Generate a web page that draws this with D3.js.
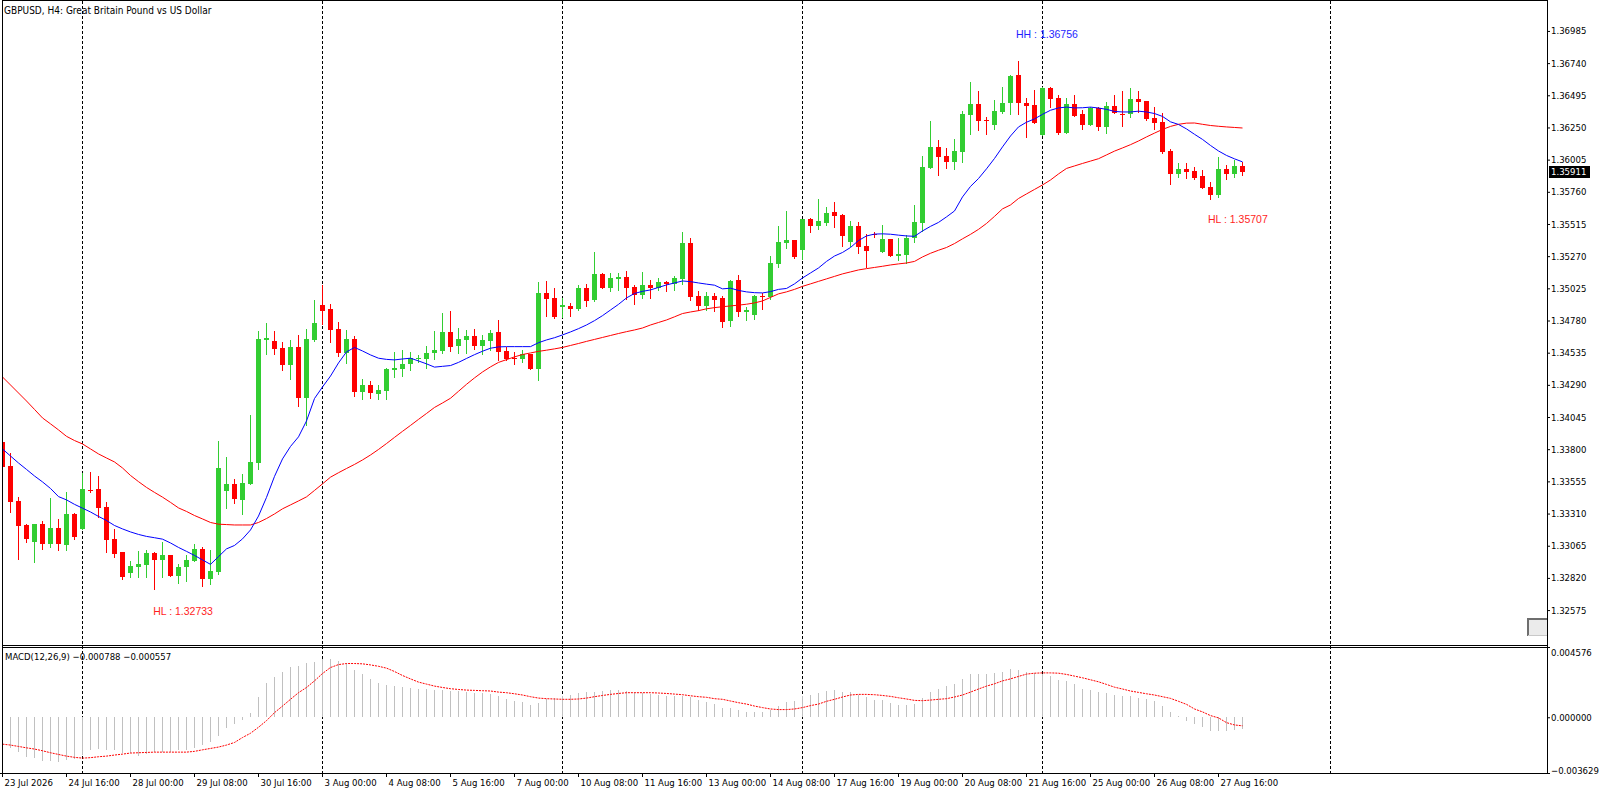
<!DOCTYPE html>
<html>
<head>
<meta charset="utf-8">
<script src="https://cdn.jsdelivr.net/npm/d3@7"></script>
<style>
  body { margin: 0; background: #fff; }
  svg { display: block; }
</style>
</head>
<body>
<svg id="chart" width="1600" height="794"></svg>
<script>
// GBPUSD H4 bars (bar 0 = 23 Jul 08:00)
var openPrices = [1.33855,1.33672,1.33406,1.33221,1.33096,1.33231,1.33079,1.33200,1.33074,1.33307,
  1.33195,1.33488,1.33498,1.33360,1.33117,1.33018,1.32858,1.32906,1.32918,1.33010,
  1.32959,1.32995,1.32838,1.32904,1.32952,1.33043,1.32814,1.32867,1.33485,1.33536,
  1.33414,1.33538,1.33698,1.34635,1.34625,1.34571,1.34442,1.34579,1.34193,1.34632,
  1.34901,1.34868,1.34716,1.34533,1.34640,1.34238,1.34289,1.34223,1.34246,1.34406,
  1.34411,1.34452,1.34488,1.34488,1.34536,1.34548,1.34693,1.34586,1.34632,1.34662,
  1.34586,1.34625,1.34693,1.34548,1.34495,1.34488,1.34525,1.34411,1.34990,1.34952,
  1.34886,1.34891,1.34870,1.35028,1.34939,1.35134,1.35030,1.35096,1.35112,1.35036,
  1.34977,1.35051,1.35028,1.35074,1.35058,1.35096,1.35371,1.34967,1.34891,1.34967,
  1.34952,1.34779,1.35089,1.34848,1.34825,1.34970,1.34962,1.35213,1.35373,1.35393,
  1.35317,1.35553,1.35502,1.35523,1.35607,1.35584,1.35381,1.35500,1.35348,1.35440,
  1.35304,1.35402,1.35274,1.35281,1.35409,1.35525,1.35944,1.36102,1.36033,1.35990,
  1.36066,1.36347,1.36430,1.36309,1.36271,1.36366,1.36435,1.36650,1.36437,1.36422,
  1.36193,1.36551,1.36475,1.36211,1.36430,1.36353,1.36271,1.36397,1.36256,1.36414,
  1.36353,1.36350,1.36468,1.36452,1.36322,1.36294,1.36071,1.35898,1.35934,1.35918,
  1.35880,1.35799,1.35738,1.35934,1.35896,1.35957];

var highPrices = [1.33885,1.33769,1.33435,1.33231,1.33231,1.33254,1.33429,1.33269,1.33475,1.33312,
  1.33619,1.33627,1.33596,1.33398,1.33190,1.33018,1.32949,1.33028,1.33033,1.33018,
  1.33094,1.32995,1.32926,1.32995,1.33079,1.33056,1.33033,1.33863,1.33741,1.33576,
  1.33612,1.34061,1.34701,1.34762,1.34701,1.34617,1.34632,1.34670,1.34716,1.34937,
  1.35053,1.34909,1.34769,1.34708,1.34662,1.34337,1.34320,1.34289,1.34421,1.34541,
  1.34556,1.34541,1.34518,1.34586,1.34701,1.34837,1.34853,1.34724,1.34708,1.34716,
  1.34670,1.34708,1.34784,1.34579,1.34541,1.34556,1.34525,1.35074,1.35081,1.35028,
  1.34950,1.34914,1.35051,1.35058,1.35302,1.35142,1.35142,1.35142,1.35157,1.35051,
  1.35150,1.35089,1.35104,1.35081,1.35119,1.35454,1.35409,1.35005,1.34998,1.34990,
  1.34967,1.35089,1.35127,1.34883,1.34975,1.34990,1.35272,1.35500,1.35614,1.35393,
  1.35553,1.35561,1.35706,1.35645,1.35683,1.35591,1.35538,1.35530,1.35437,1.35455,
  1.35508,1.35402,1.35409,1.35432,1.35662,1.36033,1.36299,1.36155,1.36094,1.36163,
  1.36376,1.36597,1.36528,1.36330,1.36460,1.36559,1.36650,1.36756,1.36475,1.36536,
  1.36559,1.36559,1.36498,1.36475,1.36498,1.36383,1.36404,1.36404,1.36445,1.36498,
  1.36528,1.36551,1.36528,1.36452,1.36406,1.36362,1.36086,1.35980,1.35980,1.35949,
  1.35926,1.35835,1.36026,1.35965,1.36003,1.35988];

var lowPrices = [1.33642,1.33324,1.32967,1.33096,1.32944,1.33043,1.33056,1.33035,1.33035,1.33117,
  1.33195,1.33475,1.33286,1.33020,1.32977,1.32814,1.32830,1.32830,1.32830,1.32733,
  1.32830,1.32838,1.32784,1.32799,1.32949,1.32761,1.32776,1.32852,1.33355,1.33391,
  1.33307,1.33538,1.33652,1.34528,1.34523,1.34403,1.34335,1.34130,1.33985,1.34625,
  1.34754,1.34619,1.34510,1.34457,1.34208,1.34180,1.34193,1.34180,1.34180,1.34350,
  1.34358,1.34403,1.34465,1.34419,1.34488,1.34533,1.34548,1.34533,1.34533,1.34564,
  1.34525,1.34556,1.34480,1.34480,1.34449,1.34465,1.34411,1.34327,1.34815,1.34799,
  1.34805,1.34817,1.34858,1.34893,1.34931,1.35030,1.35008,1.35015,1.34944,1.34909,
  1.34954,1.34954,1.35013,1.35005,1.35013,1.35058,1.34937,1.34860,1.34860,1.34853,
  1.34733,1.34741,1.34817,1.34787,1.34794,1.34870,1.34946,1.35190,1.35332,1.35256,
  1.35251,1.35457,1.35477,1.35508,1.35495,1.35348,1.35350,1.35297,1.35190,1.35417,
  1.35300,1.35274,1.35243,1.35220,1.35380,1.35465,1.35944,1.35890,1.35944,1.35937,
  1.35990,1.36203,1.36233,1.36203,1.36241,1.36358,1.36350,1.36350,1.36180,1.36282,
  1.36193,1.36409,1.36203,1.36211,1.36340,1.36241,1.36271,1.36233,1.36211,1.36358,
  1.36259,1.36332,1.36370,1.36307,1.36241,1.36058,1.35822,1.35875,1.35867,1.35860,
  1.35786,1.35707,1.35723,1.35860,1.35873,1.35888];

var closePrices = [1.33665,1.33401,1.33215,1.33119,1.33231,1.33079,1.33200,1.33079,1.33307,1.33134,
  1.33498,1.33480,1.33353,1.33111,1.33005,1.32830,1.32911,1.32926,1.33010,1.32959,
  1.32995,1.32838,1.32904,1.32957,1.33041,1.32814,1.32873,1.33657,1.33536,1.33424,
  1.33541,1.33703,1.34640,1.34648,1.34564,1.34442,1.34579,1.34193,1.34640,1.34762,
  1.34855,1.34708,1.34533,1.34640,1.34238,1.34289,1.34231,1.34251,1.34411,1.34421,
  1.34449,1.34495,1.34495,1.34533,1.34556,1.34693,1.34581,1.34640,1.34662,1.34586,
  1.34632,1.34685,1.34541,1.34488,1.34490,1.34525,1.34411,1.34990,1.34944,1.34807,
  1.34896,1.34870,1.35028,1.34931,1.35134,1.35030,1.35104,1.35112,1.35030,1.34975,
  1.35051,1.35028,1.35074,1.35058,1.35104,1.35371,1.34960,1.34891,1.34967,1.34937,
  1.34769,1.35081,1.34848,1.34860,1.34967,1.34960,1.35218,1.35378,1.35393,1.35264,
  1.35553,1.35502,1.35538,1.35599,1.35576,1.35424,1.35500,1.35343,1.35312,1.35436,
  1.35402,1.35274,1.35287,1.35409,1.35531,1.35950,1.36102,1.36028,1.35990,1.36071,
  1.36353,1.36430,1.36302,1.36297,1.36376,1.36435,1.36642,1.36435,1.36417,1.36282,
  1.36551,1.36470,1.36208,1.36430,1.36340,1.36269,1.36399,1.36256,1.36414,1.36358,
  1.36347,1.36468,1.36447,1.36315,1.36286,1.36066,1.35898,1.35934,1.35913,1.35863,
  1.35791,1.35738,1.35934,1.35893,1.35957,1.35911];

// moving averages as drawn on the chart (blue = fast, red = slow)
var maFast = [1.33802,1.33748,1.33695,1.33646,1.33596,1.33551,1.33501,1.33439,1.33414,1.33380,
  1.33351,1.33322,1.33288,1.33257,1.33219,1.33193,1.33170,1.33151,1.33136,1.33126,
  1.33115,1.33086,1.33052,1.33022,1.32991,1.32957,1.32923,1.32982,1.33041,1.33067,
  1.33117,1.33185,1.33291,1.33433,1.33593,1.33726,1.33821,1.33894,1.34015,1.34186,
  1.34274,1.34357,1.34457,1.34541,1.34575,1.34548,1.34518,1.34493,1.34484,1.34480,
  1.34487,1.34493,1.34472,1.34450,1.34425,1.34431,1.34437,1.34461,1.34491,1.34520,
  1.34546,1.34569,1.34579,1.34581,1.34581,1.34581,1.34581,1.34611,1.34632,1.34649,
  1.34670,1.34693,1.34718,1.34746,1.34779,1.34817,1.34860,1.34903,1.34952,1.34986,
  1.35002,1.35013,1.35032,1.35051,1.35066,1.35081,1.35076,1.35066,1.35057,1.35049,
  1.35021,1.35026,1.35009,1.34998,1.34992,1.34990,1.35000,1.35017,1.35024,1.35059,
  1.35104,1.35142,1.35180,1.35230,1.35271,1.35298,1.35336,1.35389,1.35424,1.35438,
  1.35440,1.35437,1.35430,1.35424,1.35421,1.35462,1.35497,1.35527,1.35569,1.35614,
  1.35721,1.35801,1.35861,1.35935,1.36014,1.36102,1.36185,1.36254,1.36290,1.36315,
  1.36350,1.36381,1.36399,1.36405,1.36399,1.36400,1.36405,1.36398,1.36388,1.36372,
  1.36368,1.36368,1.36374,1.36368,1.36356,1.36334,1.36293,1.36273,1.36239,1.36198,
  1.36159,1.36113,1.36071,1.36037,1.36011,1.35988];

var maSlow = [1.34350,1.34289,1.34228,1.34167,1.34103,1.34038,1.33993,1.33947,1.33898,1.33866,
  1.33840,1.33802,1.33764,1.33733,1.33703,1.33657,1.33600,1.33553,1.33509,1.33471,
  1.33435,1.33395,1.33353,1.33326,1.33295,1.33269,1.33242,1.33229,1.33226,1.33223,
  1.33223,1.33223,1.33242,1.33272,1.33307,1.33346,1.33376,1.33406,1.33437,1.33486,
  1.33536,1.33587,1.33621,1.33653,1.33684,1.33718,1.33756,1.33798,1.33843,1.33890,
  1.33936,1.33981,1.34027,1.34072,1.34118,1.34152,1.34188,1.34241,1.34294,1.34343,
  1.34388,1.34427,1.34461,1.34482,1.34503,1.34521,1.34533,1.34545,1.34554,1.34564,
  1.34575,1.34590,1.34605,1.34621,1.34636,1.34651,1.34666,1.34681,1.34695,1.34708,
  1.34723,1.34746,1.34765,1.34784,1.34808,1.34833,1.34845,1.34855,1.34869,1.34878,
  1.34885,1.34891,1.34897,1.34904,1.34914,1.34929,1.34956,1.34983,1.34998,1.35017,
  1.35040,1.35059,1.35078,1.35097,1.35116,1.35135,1.35150,1.35165,1.35175,1.35184,
  1.35193,1.35203,1.35211,1.35218,1.35230,1.35264,1.35292,1.35315,1.35336,1.35366,
  1.35402,1.35436,1.35474,1.35519,1.35573,1.35630,1.35660,1.35709,1.35744,1.35778,
  1.35812,1.35850,1.35896,1.35938,1.35957,1.35976,1.35994,1.36012,1.36041,1.36070,
  1.36094,1.36119,1.36147,1.36178,1.36207,1.36235,1.36258,1.36274,1.36283,1.36284,
  1.36274,1.36265,1.36259,1.36254,1.36250,1.36246];

// MACD(12,26,9): main line as histogram, signal as dotted line
var macdMain = [-0.00190,-0.00201,-0.00229,-0.00261,-0.00268,-0.00283,-0.00287,-0.00294,-0.00281,-0.00272,
  -0.00244,-0.00216,-0.00205,-0.00212,-0.00216,-0.00233,-0.00233,-0.00250,-0.00237,-0.00227,
  -0.00225,-0.00225,-0.00216,-0.00216,-0.00201,-0.00179,-0.00158,-0.00121,-0.00073,-0.00045,
  -0.00017,0.00030,0.00134,0.00220,0.00263,0.00294,0.00326,0.00337,0.00356,0.00358,
  0.00382,0.00382,0.00365,0.00354,0.00311,0.00281,0.00246,0.00225,0.00209,0.00203,
  0.00194,0.00188,0.00184,0.00181,0.00177,0.00177,0.00173,0.00171,0.00166,0.00155,
  0.00155,0.00151,0.00140,0.00121,0.00106,0.00099,0.00080,0.00095,0.00117,0.00127,
  0.00138,0.00145,0.00155,0.00162,0.00166,0.00168,0.00175,0.00175,0.00168,0.00162,
  0.00158,0.00149,0.00142,0.00136,0.00136,0.00138,0.00132,0.00110,0.00097,0.00084,
  0.00058,0.00058,0.00045,0.00032,0.00035,0.00032,0.00045,0.00071,0.00099,0.00106,
  0.00136,0.00142,0.00158,0.00168,0.00175,0.00164,0.00162,0.00142,0.00132,0.00110,
  0.00110,0.00091,0.00078,0.00078,0.00084,0.00123,0.00164,0.00186,0.00201,0.00214,
  0.00246,0.00279,0.00285,0.00285,0.00291,0.00298,0.00315,0.00311,0.00294,0.00287,
  0.00283,0.00266,0.00240,0.00233,0.00214,0.00186,0.00179,0.00162,0.00155,0.00147,
  0.00136,0.00136,0.00127,0.00121,0.00104,0.00071,0.00032,0.00006,-0.00024,-0.00045,
  -0.00065,-0.00089,-0.00089,-0.00089,-0.00080,-0.000788];

var macdSignal = [-0.00175,-0.00181,-0.00190,-0.00199,-0.00207,-0.00218,-0.00231,-0.00242,-0.00253,-0.00261,
  -0.00266,-0.00263,-0.00257,-0.00253,-0.00246,-0.00240,-0.00233,-0.00231,-0.00229,-0.00227,
  -0.00227,-0.00227,-0.00227,-0.00227,-0.00222,-0.00212,-0.00203,-0.00194,-0.00181,-0.00164,
  -0.00132,-0.00104,-0.00065,-0.00022,0.00030,0.00073,0.00117,0.00160,0.00194,0.00237,
  0.00285,0.00324,0.00343,0.00350,0.00350,0.00348,0.00341,0.00332,0.00320,0.00298,
  0.00272,0.00250,0.00229,0.00216,0.00203,0.00194,0.00186,0.00181,0.00177,0.00175,
  0.00173,0.00171,0.00164,0.00160,0.00153,0.00145,0.00134,0.00125,0.00121,0.00119,
  0.00117,0.00117,0.00119,0.00125,0.00134,0.00142,0.00149,0.00155,0.00160,0.00160,
  0.00160,0.00160,0.00158,0.00155,0.00151,0.00147,0.00140,0.00134,0.00130,0.00121,
  0.00117,0.00106,0.00095,0.00086,0.00073,0.00063,0.00054,0.00050,0.00050,0.00054,
  0.00063,0.00076,0.00086,0.00104,0.00117,0.00132,0.00145,0.00149,0.00149,0.00147,
  0.00142,0.00136,0.00127,0.00119,0.00110,0.00108,0.00112,0.00117,0.00121,0.00132,
  0.00145,0.00164,0.00184,0.00203,0.00218,0.00237,0.00250,0.00266,0.00281,0.00287,
  0.00289,0.00289,0.00287,0.00279,0.00268,0.00257,0.00244,0.00231,0.00214,0.00196,
  0.00184,0.00171,0.00162,0.00153,0.00145,0.00134,0.00123,0.00104,0.00084,0.00054,
  0.00035,0.00011,-0.00004,-0.00035,-0.00050,-0.000557];

// axis labels
var priceTicks = [1.36985,1.36740,1.36495,1.36250,1.36005,1.35760,1.35515,1.35270,1.35025,1.34780,
  1.34535,1.34290,1.34045,1.33800,1.33555,1.33310,1.33065,1.32820,1.32575];
var macdTicks = [0.004576, 0.000000, -0.003629];
var timeTickBars = [0,8,16,24,32,40,48,56,64,72,80,88,96,104,112,120,128,136,144,152];
var timeTickLabels = ['23 Jul 2026','24 Jul 16:00','28 Jul 00:00','29 Jul 08:00','30 Jul 16:00',
  '3 Aug 00:00','4 Aug 08:00','5 Aug 16:00','7 Aug 00:00','10 Aug 08:00','11 Aug 16:00',
  '13 Aug 00:00','14 Aug 08:00','17 Aug 16:00','19 Aug 00:00','20 Aug 08:00','21 Aug 16:00',
  '25 Aug 00:00','26 Aug 08:00','27 Aug 16:00'];
var weekStartBars = [10, 40, 70, 100, 130, 166];

// text objects placed on the chart
var noteTexts = ['HH : 1.36756', 'HL : 1.35707', 'HL : 1.32733'];
var noteBars = [126.75, 150.75, 18.9];
var notePrices = [1.36962, 1.35553, 1.32564];
var noteColors = ['#1e1eff', '#ff1e1e', '#ff1e1e'];

var lastPrice = 1.35911;

var svg = d3.select('#chart');
var smallFont = '"DejaVu Sans Condensed", "Liberation Sans", sans-serif';

var x = d3.scaleLinear().domain([0, 193]).range([2, 1546]);
var y = d3.scaleLinear().domain([1.32309, 1.37213]).range([645, 1]);
var ym = d3.scaleLinear().domain([-0.003629, 0.004576]).range([773, 647]);

var bars = d3.range(openPrices.length);

svg.append('rect').attr('width', 1600).attr('height', 794).attr('fill', '#fff');

var defs = svg.append('defs');
defs.append('clipPath').attr('id', 'clipMain').append('rect')
  .attr('x', 3).attr('y', 1).attr('width', 1544).attr('height', 644);
defs.append('clipPath').attr('id', 'clipMacd').append('rect')
  .attr('x', 3).attr('y', 648).attr('width', 1544).attr('height', 125);

// weekly separators
svg.append('g').selectAll('line')
  .data(weekStartBars)
  .enter().append('line')
  .attr('x1', d => x(d) + 0.5).attr('x2', d => x(d) + 0.5)
  .attr('y1', 1).attr('y2', 773)
  .attr('stroke', '#000').attr('stroke-width', 1)
  .attr('stroke-dasharray', '3,2');

// candles
var main = svg.append('g').attr('clip-path', 'url(#clipMain)');
var candle = main.selectAll('g.candle')
  .data(bars)
  .enter().append('g')
  .attr('class', 'candle')
  .attr('shape-rendering', 'crispEdges')
  .attr('fill', i => closePrices[i] >= openPrices[i] ? '#32cd32' : '#ff0000');

candle.append('rect')
  .attr('x', i => x(i))
  .attr('width', 1)
  .attr('y', i => Math.round(y(highPrices[i])))
  .attr('height', i => Math.max(1, Math.round(y(lowPrices[i])) - Math.round(y(highPrices[i])) + 1));

candle.append('rect')
  .attr('x', i => x(i) - 2)
  .attr('width', 5)
  .attr('y', i => Math.round(y(Math.max(openPrices[i], closePrices[i]))))
  .attr('height', i => Math.max(1, Math.round(y(Math.min(openPrices[i], closePrices[i]))) - Math.round(y(Math.max(openPrices[i], closePrices[i])))));

// moving averages
var maLine = d3.line().x(i => x(i) + 0.5);
main.append('path')
  .attr('d', maLine.y(i => y(maSlow[i]))(bars))
  .attr('fill', 'none').attr('stroke', '#ff0000').attr('stroke-width', 1);
main.append('path')
  .attr('d', maLine.y(i => y(maFast[i]))(bars))
  .attr('fill', 'none').attr('stroke', '#0000ff').attr('stroke-width', 1);

// chart text objects
svg.append('g').selectAll('text')
  .data(noteTexts)
  .enter().append('text')
  .attr('x', (d, i) => x(noteBars[i]))
  .attr('y', (d, i) => y(notePrices[i]))
  .attr('dy', '0.35em')
  .attr('fill', (d, i) => noteColors[i])
  .style('font-family', '"Liberation Sans", Arial, sans-serif')
  .style('font-size', '10.5px')
  .text(d => d);

// MACD window
var macdG = svg.append('g').attr('clip-path', 'url(#clipMacd)');
macdG.selectAll('rect')
  .data(bars)
  .enter().append('rect')
  .attr('shape-rendering', 'crispEdges')
  .attr('x', i => x(i))
  .attr('width', 1)
  .attr('y', i => Math.min(ym(0), ym(macdMain[i])))
  .attr('height', i => Math.max(1, Math.abs(ym(macdMain[i]) - ym(0))))
  .attr('fill', '#c0c0c0');

macdG.append('path')
  .attr('d', d3.line().x(i => x(i) + 0.5).y(i => ym(macdSignal[i]))(bars))
  .attr('fill', 'none').attr('stroke', '#ff0000').attr('stroke-width', 1)
  .attr('stroke-dasharray', '2,1');

// frames
var frame = svg.append('g').attr('stroke', '#000').attr('stroke-width', 1).attr('shape-rendering', 'crispEdges');
frame.append('line').attr('x1', 2.5).attr('x2', 2.5).attr('y1', 0).attr('y2', 774);
frame.append('line').attr('x1', 1547.5).attr('x2', 1547.5).attr('y1', 0).attr('y2', 774);
frame.append('line').attr('x1', 2).attr('x2', 1548).attr('y1', 0.5).attr('y2', 0.5);
frame.append('line').attr('x1', 2).attr('x2', 1548).attr('y1', 645.5).attr('y2', 645.5);
frame.append('line').attr('x1', 2).attr('x2', 1548).attr('y1', 647.5).attr('y2', 647.5);
frame.append('line').attr('x1', 0).attr('x2', 1548).attr('y1', 773.5).attr('y2', 773.5);

// price axis
var priceAxis = svg.append('g')
  .attr('transform', 'translate(1547,0)')
  .call(d3.axisRight(y).tickValues(priceTicks).tickFormat(d3.format('.5f')).tickSize(3).tickPadding(1));
priceAxis.select('.domain').remove();
priceAxis.selectAll('text').style('font-family', smallFont).style('font-size', '9.5px').attr('fill', '#000');

// MACD axis
var macdAxis = svg.append('g')
  .attr('transform', 'translate(1547,0)')
  .call(d3.axisRight(ym).tickValues(macdTicks).tickFormat(d3.format('.6f')).tickSize(3).tickPadding(1));
macdAxis.select('.domain').remove();
macdAxis.selectAll('text').style('font-family', smallFont).style('font-size', '9.5px').attr('fill', '#000')
  .attr('dy', (d, i) => i === 0 ? '0.9em' : (i === 2 ? '0.1em' : '0.32em'));

// current price tag
var tagY = y(lastPrice);
svg.append('rect').attr('x', 1549).attr('y', Math.round(tagY) - 6).attr('width', 41).attr('height', 12).attr('fill', '#000');
svg.append('text').attr('x', 1551).attr('y', tagY).attr('dy', '0.35em')
  .attr('fill', '#fff').style('font-family', smallFont).style('font-size', '9.5px')
  .text(d3.format('.5f')(lastPrice));

// time axis
var timeAxis = svg.append('g')
  .attr('transform', 'translate(0,773)')
  .call(d3.axisBottom(x).tickValues(timeTickBars).tickFormat((d, i) => timeTickLabels[i]).tickSize(4).tickPadding(2));
timeAxis.select('.domain').remove();
timeAxis.selectAll('text').attr('text-anchor', 'start').attr('x', 2)
  .style('font-family', smallFont).style('font-size', '9.5px').attr('fill', '#000');

// scroll button at the bottom right of the price window
svg.append('rect').attr('x', 1527).attr('y', 618).attr('width', 20).attr('height', 18)
  .attr('fill', '#ebebeb').attr('shape-rendering', 'crispEdges');
svg.append('path').attr('d', 'M1528,636V619H1547').attr('fill', 'none')
  .attr('stroke', '#6e6e6e').attr('stroke-width', 2).attr('shape-rendering', 'crispEdges');
svg.append('line').attr('x1', 1528).attr('x2', 1547).attr('y1', 635.5).attr('y2', 635.5)
  .attr('stroke', '#c8c8c8').attr('shape-rendering', 'crispEdges');

// window titles
svg.append('text').attr('x', 4).attr('y', 10).attr('dy', '0.35em')
  .style('font-family', smallFont).style('font-size', '10px').attr('fill', '#000')
  .text('GBPUSD, H4:  Great Britain Pound vs US Dollar');
svg.append('text').attr('x', 5).attr('y', 657).attr('dy', '0.35em')
  .style('font-family', smallFont).style('font-size', '9.5px').attr('fill', '#000')
  .text('MACD(12,26,9) ' + d3.format('.6f')(macdMain[macdMain.length - 1]) + ' ' + d3.format('.6f')(macdSignal[macdSignal.length - 1]));
</script>
</body>
</html>
